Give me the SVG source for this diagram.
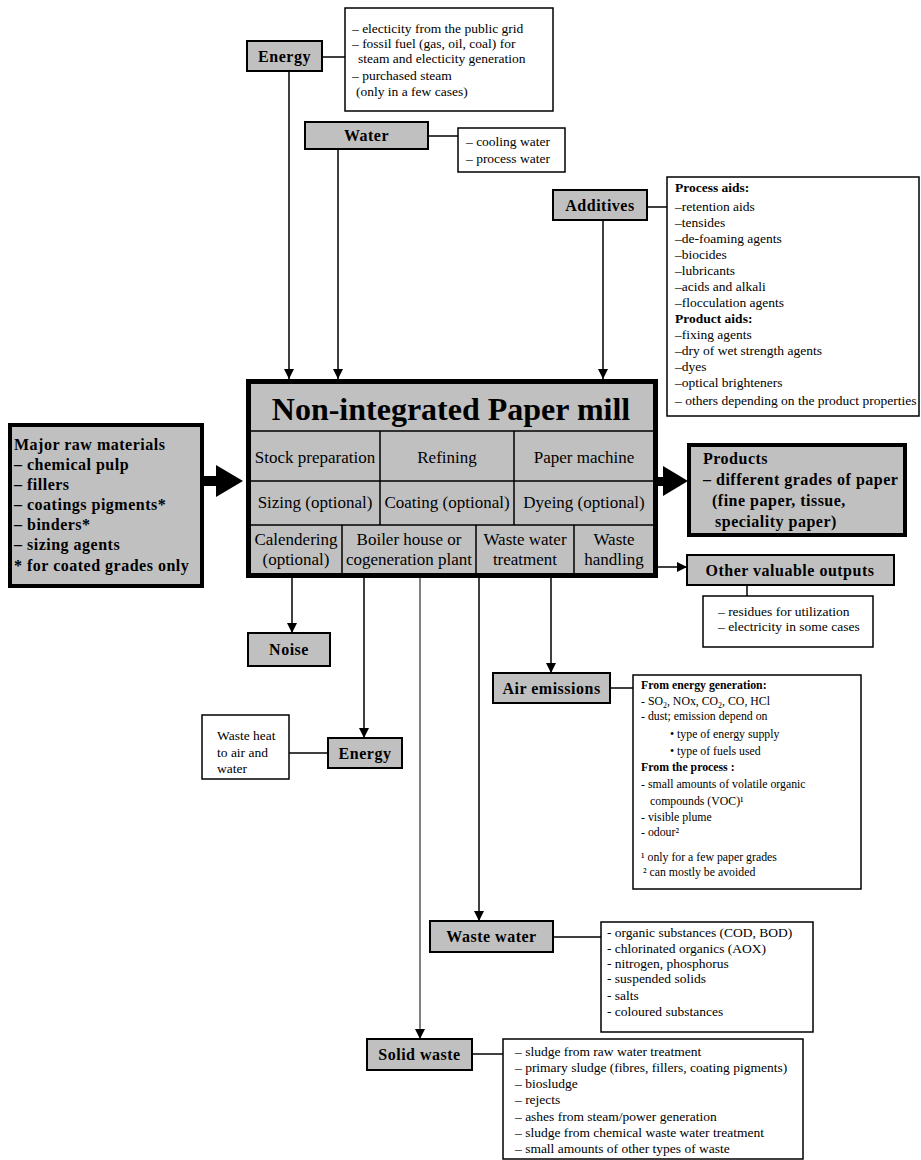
<svg xmlns="http://www.w3.org/2000/svg" width="921" height="1160" viewBox="0 0 921 1160">
<defs>
<style>
.box{fill:#c0c0c0;stroke:#000;stroke-width:2}
.info{fill:#fff;stroke:#000;stroke-width:1.5}
.lbl{font-family:"Liberation Serif",serif;font-weight:bold;font-size:16px;letter-spacing:0.5px}
.t{font-family:"Liberation Serif",serif;font-size:13.5px}
.s{font-family:"Liberation Serif",serif;font-size:11.8px}
.b{font-weight:bold}
.cell{font-family:"Liberation Serif",serif;font-size:17px;text-anchor:middle}
.ln{stroke:#000;stroke-width:1.5;fill:none}
.ar{stroke:#000;stroke-width:1.5;fill:none;marker-end:url(#ah)}
.mid{text-anchor:middle}
</style>
<marker id="ah" viewBox="0 0 10 10" refX="10" refY="5" markerWidth="10" markerHeight="11" markerUnits="userSpaceOnUse" orient="auto">
<path d="M0,0 L10,5 L0,10 z" fill="#000"/>
</marker>
</defs>
<rect width="921" height="1160" fill="#fff"/>

<g id="connectors">
<line class="ln" x1="322" y1="57" x2="345" y2="57"/>
<line class="ln" x1="428" y1="136" x2="458" y2="136"/>
<line class="ln" x1="647" y1="207" x2="667" y2="207"/>
<line class="ln" x1="747" y1="585" x2="747" y2="596"/>
<line class="ln" x1="610" y1="688" x2="633" y2="688"/>
<line class="ln" x1="289" y1="753" x2="328" y2="753"/>
<line class="ln" x1="553" y1="937" x2="601" y2="937"/>
<line class="ln" x1="472" y1="1054" x2="503" y2="1054"/>
<line class="ar" x1="289" y1="71" x2="289" y2="379"/>
<line class="ar" x1="338" y1="149" x2="338" y2="379"/>
<line class="ar" x1="603" y1="220" x2="603" y2="379"/>
<line class="ar" x1="658" y1="567" x2="687" y2="567"/>
<line class="ar" x1="292" y1="578" x2="292" y2="633"/>
<line class="ar" x1="364" y1="578" x2="364" y2="738"/>
<line x1="420" y1="578" x2="420" y2="1039" stroke="#808080" stroke-width="2" marker-end="url(#ah)"/>
<line class="ar" x1="479" y1="578" x2="479" y2="921"/>
<line class="ar" x1="551" y1="578" x2="551" y2="673"/>
<rect x="196" y="476" width="22" height="10" fill="#000"/>
<polygon points="216,465 243,481 216,497" fill="#000"/>
<rect x="654" y="477" width="11" height="9" fill="#000"/>
<polygon points="663,466 688,481 663,496" fill="#000"/>
</g>

<g id="mill">
<rect x="248.5" y="381.5" width="407" height="194" fill="#c0c0c0" stroke="#000" stroke-width="5"/>
<line class="ln" x1="250" y1="431" x2="654" y2="431"/>
<line class="ln" x1="250" y1="481" x2="654" y2="481"/>
<line class="ln" x1="250" y1="525" x2="654" y2="525"/>
<line class="ln" x1="380" y1="431" x2="380" y2="525"/>
<line class="ln" x1="514" y1="431" x2="514" y2="525"/>
<line class="ln" x1="342" y1="525" x2="342" y2="575"/>
<line class="ln" x1="476" y1="525" x2="476" y2="575"/>
<line class="ln" x1="574" y1="525" x2="574" y2="575"/>
<text x="451" y="420" font-family="Liberation Serif, serif" font-weight="bold" font-size="32" text-anchor="middle">Non-integrated Paper mill</text>
<text class="cell" x="315" y="463">Stock preparation</text>
<text class="cell" x="447" y="463">Refining</text>
<text class="cell" x="584" y="463">Paper machine</text>
<text class="cell" x="315" y="508">Sizing (optional)</text>
<text class="cell" x="447" y="508">Coating (optional)</text>
<text class="cell" x="584" y="508">Dyeing (optional)</text>
<text class="cell" x="296" y="545">Calendering</text>
<text class="cell" x="296" y="565">(optional)</text>
<text class="cell" x="409" y="545">Boiler house or</text>
<text class="cell" x="409" y="565">cogeneration plant</text>
<text class="cell" x="525" y="545">Waste water</text>
<text class="cell" x="525" y="565">treatment</text>
<text class="cell" x="614" y="545">Waste</text>
<text class="cell" x="614" y="565">handling</text>
</g>

<g id="raw">
<rect x="10" y="425" width="192" height="161" fill="#c0c0c0" stroke="#000" stroke-width="4"/>
<text class="lbl" x="14" y="450">Major raw materials</text>
<text class="lbl" x="14" y="470">– chemical pulp</text>
<text class="lbl" x="14" y="490">– fillers</text>
<text class="lbl" x="14" y="510">– coatings pigments*</text>
<text class="lbl" x="14" y="530">– binders*</text>
<text class="lbl" x="14" y="550">– sizing agents</text>
<text class="lbl" x="14" y="571">* for coated grades only</text>
</g>

<g id="products">
<rect x="689" y="445" width="216" height="90" fill="#c0c0c0" stroke="#000" stroke-width="4"/>
<text class="lbl" x="703" y="464">Products</text>
<text class="lbl" x="703" y="485">– different grades of paper</text>
<text class="lbl" x="712" y="506">(fine paper, tissue,</text>
<text class="lbl" x="715" y="527">speciality paper)</text>
</g>

<g id="energy-in">
<rect class="box" x="247" y="41" width="75" height="30"/>
<text class="lbl mid" x="284.5" y="62">Energy</text>
</g>
<g id="energy-info">
<rect class="info" x="345" y="8" width="208" height="103"/>
<text class="t" x="352" y="33">– electicity from the public grid</text>
<text class="t" x="352" y="48">– fossil fuel (gas, oil, coal) for</text>
<text class="t" x="358" y="63">steam and electicity generation</text>
<text class="t" x="352" y="80">– purchased steam</text>
<text class="t" x="356" y="96">(only in a few cases)</text>
</g>

<g id="water">
<rect class="box" x="305" y="122" width="123" height="27"/>
<text class="lbl mid" x="366.5" y="141">Water</text>
</g>
<g id="water-info">
<rect class="info" x="458" y="128" width="107" height="44"/>
<text class="t" x="466" y="146">– cooling water</text>
<text class="t" x="466" y="163">– process water</text>
</g>

<g id="additives">
<rect class="box" x="553" y="190" width="94" height="30"/>
<text class="lbl mid" x="600" y="211">Additives</text>
</g>
<g id="additives-info">
<rect class="info" x="667" y="177" width="252" height="239"/>
<text class="t b" x="675" y="192">Process aids:</text>
<text class="t" x="675" y="211">–retention aids</text>
<text class="t" x="675" y="227">–tensides</text>
<text class="t" x="675" y="243">–de-foaming agents</text>
<text class="t" x="675" y="259">–biocides</text>
<text class="t" x="675" y="275">–lubricants</text>
<text class="t" x="675" y="291">–acids and alkali</text>
<text class="t" x="675" y="307">–flocculation agents</text>
<text class="t b" x="675" y="323">Product aids:</text>
<text class="t" x="675" y="339">–fixing agents</text>
<text class="t" x="675" y="355">–dry of wet strength agents</text>
<text class="t" x="675" y="371">–dyes</text>
<text class="t" x="675" y="387">–optical brighteners</text>
<text class="t" x="675" y="405">– others depending on the product properties</text>
</g>

<g id="other-outputs">
<rect class="box" x="687" y="555" width="207" height="30"/>
<text class="lbl mid" x="790" y="576">Other valuable outputs</text>
</g>
<g id="other-info">
<rect class="info" x="703" y="596" width="170" height="51"/>
<text class="t" x="718" y="616" font-size="13">– residues for utilization</text>
<text class="t" x="718" y="631" font-size="13">– electricity in some cases</text>
</g>

<g id="noise">
<rect class="box" x="248" y="633" width="82" height="33"/>
<text class="lbl mid" x="289" y="655">Noise</text>
</g>

<g id="energy-out">
<rect class="box" x="328" y="738" width="74" height="30"/>
<text class="lbl mid" x="365" y="759">Energy</text>
</g>
<g id="waste-heat">
<rect class="info" x="202" y="715" width="87" height="64"/>
<text class="t" x="217" y="740">Waste heat</text>
<text class="t" x="217" y="757">to air and</text>
<text class="t" x="217" y="773">water</text>
</g>

<g id="air">
<rect class="box" x="493" y="673" width="117" height="30"/>
<text class="lbl mid" x="551.5" y="694">Air emissions</text>
</g>
<g id="air-info">
<rect class="info" x="633" y="675" width="228" height="214"/>
<text class="s b" x="641" y="689">From energy generation:</text>
<text class="s" x="641" y="705">- SO<tspan font-size="8" dy="3">2</tspan><tspan dy="-3">, NOx, CO</tspan><tspan font-size="8" dy="3">2</tspan><tspan dy="-3">, CO, HCl</tspan></text>
<text class="s" x="641" y="720">- dust; emission depend on</text>
<text class="s" x="670" y="738">•  type of energy supply</text>
<text class="s" x="670" y="755">•  type of fuels used</text>
<text class="s b" x="641" y="771">From the process :</text>
<text class="s" x="641" y="788">- small amounts of volatile organic</text>
<text class="s" x="650" y="805">compounds (VOC)¹</text>
<text class="s" x="641" y="821">- visible plume</text>
<text class="s" x="641" y="836">- odour²</text>
<text class="s" x="641" y="861">¹  only for a few paper grades</text>
<text class="s" x="643" y="876">² can mostly be avoided</text>
</g>

<g id="waste-water">
<rect class="box" x="430" y="921" width="123" height="31"/>
<text class="lbl mid" x="491.5" y="942">Waste water</text>
</g>
<g id="waste-water-info">
<rect class="info" x="601" y="922" width="212" height="110"/>
<text class="t" x="607" y="937">- organic substances (COD, BOD)</text>
<text class="t" x="607" y="953">- chlorinated organics (AOX)</text>
<text class="t" x="607" y="968">- nitrogen, phosphorus</text>
<text class="t" x="607" y="983">- suspended solids</text>
<text class="t" x="607" y="1000">- salts</text>
<text class="t" x="607" y="1016">- coloured substances</text>
</g>

<g id="solid-waste">
<rect class="box" x="367" y="1039" width="105" height="31"/>
<text class="lbl mid" x="419.5" y="1060">Solid waste</text>
</g>
<g id="solid-waste-info">
<rect class="info" x="503" y="1039" width="300" height="120"/>
<text class="t" x="515" y="1056">– sludge from raw water treatment</text>
<text class="t" x="515" y="1072">– primary sludge (fibres, fillers, coating pigments)</text>
<text class="t" x="515" y="1088">– biosludge</text>
<text class="t" x="515" y="1104">– rejects</text>
<text class="t" x="515" y="1121">– ashes from steam/power generation</text>
<text class="t" x="515" y="1137">– sludge from chemical waste water treatment</text>
<text class="t" x="515" y="1153">– small amounts of other types of waste</text>
</g>
</svg>
